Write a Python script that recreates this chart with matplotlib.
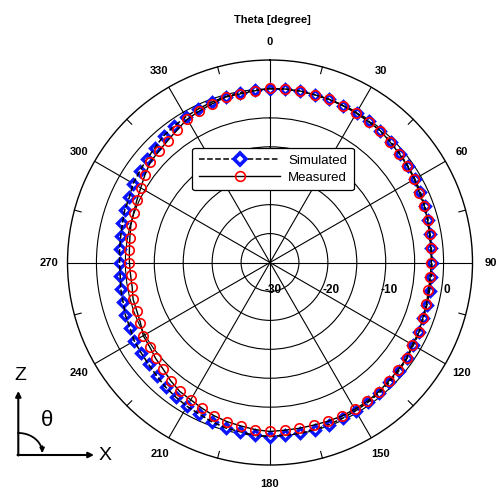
import numpy as np
import matplotlib
matplotlib.use("Agg")
import matplotlib.pyplot as plt
from matplotlib.lines import Line2D
from matplotlib.transforms import offset_copy

plt.rcParams['font.family'] = ['Liberation Sans', 'DejaVu Sans']

# angulos cada 5 grados
theta_deg = np.arange(0, 360, 5)

# patron medido [dB]
medido = [0.1, 0.1, 0.1, 0.0, 0.0, -0.1, -0.2, -0.3, -0.3, -0.6, -0.8, -1.0,
          -1.2, -1.5, -1.6, -1.8, -2.0, -2.1, -2.1, -2.2, -2.2, -2.0, -1.9, -1.6,
          -1.6, -1.2, -1.1, -1.0, -0.8, -0.7, -0.7, -0.7, -0.8, -0.9, -0.9, -0.9,
          -0.8, -1.0, -1.3, -1.5, -1.8, -2.2, -2.6, -2.8, -3.3, -3.9, -4.2, -4.6,
          -4.7, -5.3, -5.5, -5.5, -5.8, -5.8, -5.7, -5.6, -5.4, -5.1, -4.9, -4.6,
          -4.2, -3.6, -3.0, -2.8, -2.5, -2.0, -1.4, -1.1, -0.8, -0.4, -0.4, -0.2]

# patron simulado [dB]
simulado = [0.0, 0.1, 0.1, 0.0, 0.0, -0.1, -0.1, -0.2, -0.3, -0.5, -0.7, -0.9,
            -1.1, -1.3, -1.5, -1.7, -1.9, -2.0, -2.0, -2.0, -2.0, -1.9, -1.8, -1.5,
            -1.4, -1.1, -0.9, -0.8, -0.6, -0.5, -0.4, -0.3, -0.2, -0.1, 0.0, 0.0,
            0.1, 0.0, -0.3, -0.4, -0.7, -1.1, -1.3, -1.6, -1.9, -2.3, -2.6, -2.8,
            -2.9, -3.3, -3.4, -3.7, -3.8, -4.0, -4.0, -3.9, -3.8, -3.6, -3.3, -3.2,
            -2.7, -2.5, -2.2, -1.9, -1.4, -1.2, -0.9, -0.7, -0.5, -0.3, -0.2, -0.1]

etiquetas_theta = [str(a) for a in range(0, 360, 30)]
etiquetas_r = [-30, -20, -10, 0]

fig = plt.figure(figsize=(5.03, 4.88), dpi=100)
ax = fig.add_axes([0.1342, 0.0471, 0.8052, 0.8299], projection='polar')
ax.set_theta_zero_location('N')
ax.set_theta_direction(-1)
ax.set_ylim(-30, 5)

th = np.deg2rad(np.append(theta_deg, 360))
sim = np.append(simulado, simulado[0])
med = np.append(medido, medido[0])

ax.plot(th[:-1], sim[:-1], linestyle='none', marker='D', markersize=5.0,
        markerfacecolor='white', markeredgecolor='#0a14ff', markeredgewidth=2.4, zorder=3)
ax.plot(th, sim, '--', color='black', lw=1.1, zorder=4)
ax.plot(th[:-1], med[:-1], linestyle='none', marker='o', markersize=6.8,
        markerfacecolor='none', markeredgecolor='red', markeredgewidth=1.2, zorder=5)
ax.plot(th, med, '-', color='black', lw=1.0, zorder=4)

# rejilla
ax.set_thetagrids(range(0, 360, 30), labels=[''] * 12)
ax.set_rgrids([-25, -20, -15, -10, -5, 0], labels=[''] * 6)
ax.grid(True, color='black', lw=0.8)
ax.spines['polar'].set_linewidth(1.0)
ax.spines['polar'].set_color('black')

# marcas menores en el borde
for a in range(15, 360, 30):
    ax.plot([np.deg2rad(a)] * 2, [3.8, 5], color='black', lw=0.8, clip_on=False)

for a, lab in zip(range(0, 360, 30), etiquetas_theta):
    ax.text(np.deg2rad(a), 8.2, lab, ha='center', va='center', fontsize=8,
            fontweight='bold', clip_on=False)

trans = offset_copy(ax.transData, fig=fig, x=3, y=-27, units='dots')
for v in etiquetas_r:
    ax.text(np.pi / 2, v, str(v), transform=trans, ha='center', va='center',
            fontsize=8.5, fontweight='bold')

fig.text(272 / 503, 1 - 20 / 488, 'Theta [degree]', ha='center', va='center',
         fontsize=8, fontweight='bold')

handles = [
    Line2D([], [], ls='--', color='black', lw=1.1, marker='D', markersize=6.0,
           markerfacecolor='white', markeredgecolor='#0a14ff', markeredgewidth=2.6),
    Line2D([], [], ls='-', color='black', lw=1.0, marker='o', markersize=7.0,
           markerfacecolor='none', markeredgecolor='red', markeredgewidth=1.2),
]
leg = fig.legend(handles, ['Simulated', 'Measured'], loc='center',
                 bbox_to_anchor=(273 / 503, 1 - 169 / 488), fontsize=9.5,
                 handlelength=6.2, handletextpad=0.6, borderpad=0.5,
                 labelspacing=0.35, fancybox=True, framealpha=1, edgecolor='black')
leg.get_frame().set_linewidth(0.9)

# diagrama de ejes abajo a la izquierda
ov = fig.add_axes([0, 0, 1, 1], facecolor='none')
ov.set_xlim(0, 503)
ov.set_ylim(488, 0)
ov.axis('off')
ov.annotate('', xy=(18.3, 391), xytext=(18.3, 455.5),
            arrowprops=dict(arrowstyle='-|>', color='black', lw=1.5, mutation_scale=8,
                            shrinkA=0, shrinkB=0))
ov.annotate('', xy=(94, 455), xytext=(17.5, 455),
            arrowprops=dict(arrowstyle='-|>', color='black', lw=1.5, mutation_scale=8,
                            shrinkA=0, shrinkB=0))
t = np.linspace(np.pi / 2, 0.12, 40)
ov.plot(18.3 + 24 * np.cos(t), 453 - 20 * np.sin(t), color='black', lw=1.3)
ov.annotate('', xy=(42.3, 453), xytext=(42.1, 446),
            arrowprops=dict(arrowstyle='-|>', color='black', lw=1.2, mutation_scale=7,
                            shrinkA=0, shrinkB=0))
ov.text(20, 375, 'Z', ha='center', va='center', fontsize=14)
ov.text(105, 455, 'X', ha='center', va='center', fontsize=14)
ov.text(47.5, 421, 'θ', ha='center', va='center', fontsize=16)

fig.savefig('out.png', dpi=100)
